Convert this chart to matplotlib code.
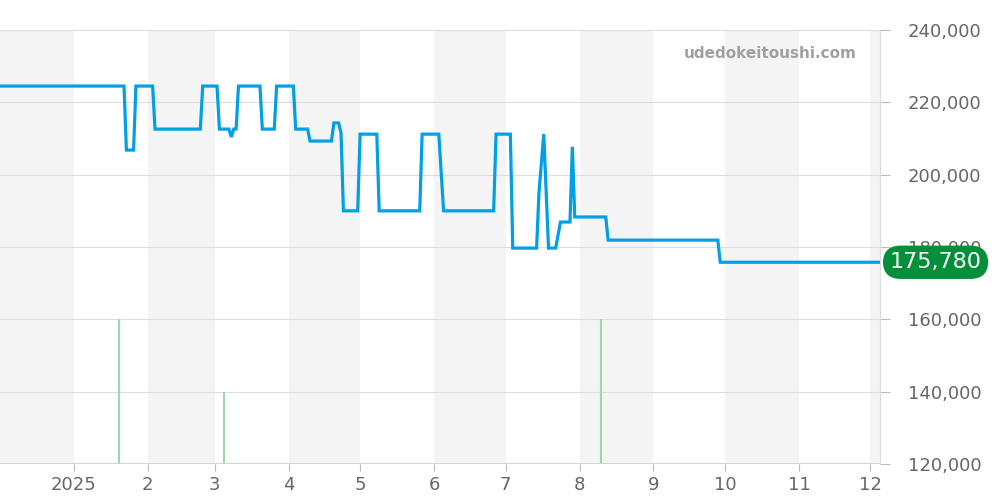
import matplotlib
matplotlib.use("Agg")
import matplotlib.pyplot as plt
import matplotlib.dates as mdates
import pandas as pd

# price history (date, yen)
dates = ["2024-12-01", "2025-01-22", "2025-01-23", "2025-01-26", "2025-01-27",
         "2025-02-03", "2025-02-04", "2025-02-23", "2025-02-24", "2025-03-02",
         "2025-03-03", "2025-03-07", "2025-03-08", "2025-03-09", "2025-03-10",
         "2025-03-11", "2025-03-20", "2025-03-21", "2025-03-26", "2025-03-27",
         "2025-04-03", "2025-04-04", "2025-04-09", "2025-04-10", "2025-04-19",
         "2025-04-20", "2025-04-22", "2025-04-23", "2025-04-24", "2025-04-30",
         "2025-05-01", "2025-05-08", "2025-05-09", "2025-05-26", "2025-05-27",
         "2025-06-03", "2025-06-05", "2025-06-26", "2025-06-27", "2025-07-03",
         "2025-07-04", "2025-07-14", "2025-07-15", "2025-07-17", "2025-07-19",
         "2025-07-22", "2025-07-24", "2025-07-28", "2025-07-29", "2025-07-30",
         "2025-08-12", "2025-08-13", "2025-09-28", "2025-09-29", "2025-12-05"]
prices = [224500, 224500, 206800, 206800, 224500,
          224500, 212600, 212600, 224500, 224500,
          212600, 212600, 210400, 212600, 212600,
          224500, 224500, 212600, 212600, 224500,
          224500, 212600, 212600, 209300, 209300,
          214300, 214300, 211500, 190000, 190000,
          211200, 211200, 190000, 190000, 211200,
          211200, 190000, 190000, 211200, 211200,
          179700, 179700, 195000, 211200, 179700,
          179700, 186900, 186900, 207700, 188300,
          188300, 181900, 181900, 175780, 175780]

# trade volume bars
vol_dates = ["2025-01-20", "2025-03-05", "2025-08-10"]
vol_values = [2, 1, 2]

x_start, x_end = "2024-12-01", "2025-12-05"
month_ticks = pd.date_range("2025-01-01", "2025-12-01", freq="MS")
month_labels = ["2025", "2", "3", "4", "5", "6", "7", "8", "9", "10", "11", "12"]
y_ticks = [120000, 140000, 160000, 180000, 200000, 220000, 240000]
last_price = prices[-1]

d = pd.to_datetime(dates)
vd = pd.to_datetime(vol_dates)

fig = plt.figure(figsize=(10, 5), dpi=100)
ax = fig.add_axes([0, 0.072, 0.88, 0.868])

# alternate month shading (even months)
months = pd.date_range("2024-12-01", "2026-01-01", freq="MS")
for m0, m1 in zip(months[:-1], months[1:]):
    if m0.month % 2 == 0:
        ax.axvspan(m0, m1, color="#f4f4f4", zorder=0, lw=0)

ax.set_xlim(pd.Timestamp(x_start), pd.Timestamp(x_end))
ax.set_ylim(120000, 240000)

# volume on hidden twin axis
ax2 = ax.twinx()
ax2.set_ylim(0, 6)
ax2.vlines(vd, 0, vol_values, color="#9fd8a8", lw=1.5)
ax2.axhline(0, color="#b8e2be", lw=2)
ax2.set_yticks([])
for s in ax2.spines.values():
    s.set_visible(False)

ax.plot(d, prices, color="#00a0e6", lw=2.3, zorder=3, solid_joinstyle="miter")

ax.set_yticks(y_ticks)
ax.set_yticklabels([f"{v:,}" for v in y_ticks])
ax.yaxis.tick_right()
ax.grid(axis="y", color="#dddddd", lw=0.8)
ax.set_axisbelow(True)
ax.tick_params(axis="y", colors="#bbbbbb", labelcolor="#666666", labelsize=13,
               length=7, pad=13)
ax.set_xticks(month_ticks)
ax.set_xticklabels(month_labels)
ax.tick_params(axis="x", colors="#bbbbbb", labelcolor="#666666", labelsize=13,
               length=5)
for s in ["top", "left", "bottom"]:
    ax.spines[s].set_visible(False)
ax.spines["right"].set_color("#dddddd")

ax.text(0.974, 0.947, "udedokeitoushi.com", transform=ax.transAxes,
        ha="right", va="center", fontsize=11, fontweight="bold", color="#a0a0a0")

ax.annotate(f"{last_price:,}", xy=(1.0, last_price), xycoords=("axes fraction", "data"),
            xytext=(40, 0), textcoords="offset points", ha="center", va="center",
            fontsize=16, color="white", zorder=5, annotation_clip=False,
            bbox=dict(boxstyle="round,pad=0.3,rounding_size=0.8", fc="#048f3a", ec="none"))

fig.savefig("out.png", dpi=100)
